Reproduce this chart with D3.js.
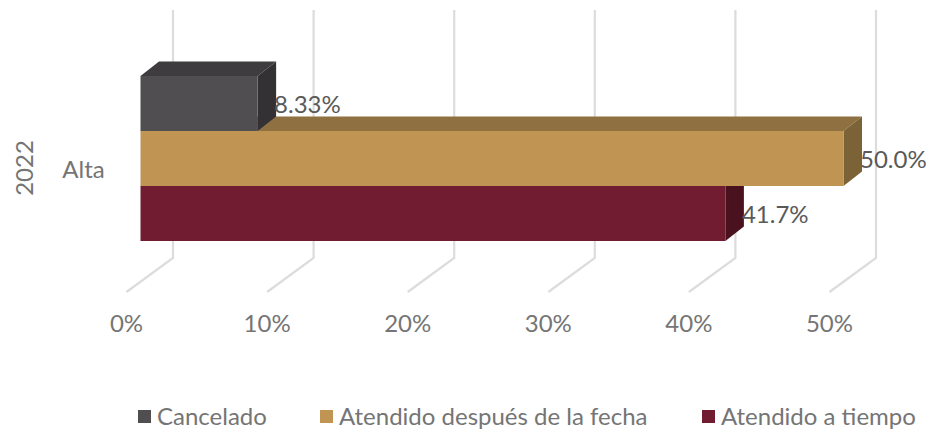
<!DOCTYPE html>
<html><head><meta charset="utf-8">
<script src="https://cdn.jsdelivr.net/npm/d3@7"></script>
<style>html,body{margin:0;background:#fff}svg{display:block}text{font-family:Lato,sans-serif}</style>
</head><body><svg id="c" width="929" height="432"></svg>
<script>
const yearLabel = "2022";
const category = "Alta";
const seriesNames = ["Cancelado","Atendido después de la fecha","Atendido a tiempo"];
const seriesValues = [0.0833,0.50,0.416];
const valueLabels = ["8.33%","50.0%","41.7%"];
const tickValues = [0,0.1,0.2,0.3,0.4,0.5];
const frontColors = ["#504e51","#c09553","#711c30"];
const topColors = ["#3e3c3f","#8f7141","#561524"];
const sideColors = ["#333134","#7c6337","#4a121f"];

const svg = d3.select("#c");
const xBar = d3.scaleLinear().domain([0,0.5]).range([140.5,843.5]);
const xWall = d3.scaleLinear().domain([0,0.5]).range([173,876]);
const xFloor = d3.scaleLinear().domain([0,0.5]).range([126.5,829.5]);
const yBand = d3.scaleBand().domain(seriesNames).range([76,241]);
const dx = 18.5, dy = 14.5, wallTop = 10, wallBottom = 258, floorFront = 292;
const fontSize = 24;

const grid = svg.append("g").attr("fill","none").attr("stroke","#dcdcdc").attr("stroke-width",2.2);
grid.selectAll("path").data(tickValues).join("path")
  .attr("d",d=>d3.line()([[xWall(d),wallTop],[xWall(d),wallBottom],[xFloor(d),floorFront]]));

const order = d3.range(seriesNames.length).reverse();
const bars = svg.append("g").selectAll("g").data(order).join("g");
const poly = pts => d3.line()(pts)+"Z";
bars.append("path").attr("fill",i=>topColors[i]).attr("d",i=>{
  const a=xBar(0),b=xBar(seriesValues[i]),t=yBand(seriesNames[i]);
  return poly([[a,t],[a+dx,t-dy],[b+dx,t-dy],[b,t]]);});
bars.append("path").attr("fill",i=>sideColors[i]).attr("d",i=>{
  const b=xBar(seriesValues[i]),t=yBand(seriesNames[i]),h=yBand.bandwidth();
  return poly([[b,t],[b+dx,t-dy],[b+dx,t+h-dy],[b,t+h]]);});
bars.append("rect").attr("fill",i=>frontColors[i])
  .attr("x",xBar(0)).attr("y",i=>yBand(seriesNames[i]))
  .attr("width",i=>xBar(seriesValues[i])-xBar(0)).attr("height",yBand.bandwidth());

svg.append("g").selectAll("text").data(valueLabels).join("text")
  .attr("x",(d,i)=>xBar(seriesValues[i])+dx-2)
  .attr("y",(d,i)=>yBand(seriesNames[i])+yBand.bandwidth()/2+9)
  .attr("font-size",fontSize).attr("fill","#595959").text(d=>d);

svg.append("g").selectAll("text").data(tickValues).join("text")
  .attr("x",d=>xFloor(d)).attr("y",332).attr("text-anchor","middle")
  .attr("font-size",fontSize).attr("fill","#757575").text(d3.format(".0%"));

svg.append("text").attr("x",83.5).attr("y",178).attr("text-anchor","middle")
  .attr("font-size",fontSize).attr("fill","#757575").text(category);
svg.append("text").attr("transform","translate(33,168) rotate(-90)").attr("text-anchor","middle")
  .attr("font-size",fontSize).attr("fill","#757575").text(yearLabel);

const legendX = [138,320,702];
const lg = svg.append("g").selectAll("g").data(seriesNames).join("g")
  .attr("transform",(d,i)=>`translate(${legendX[i]},410)`);
lg.append("rect").attr("width",13).attr("height",13).attr("fill",(d,i)=>frontColors[i]);
lg.append("text").attr("x",19).attr("y",15).attr("font-size",fontSize).attr("fill","#757575").text(d=>d);
</script></body></html>
